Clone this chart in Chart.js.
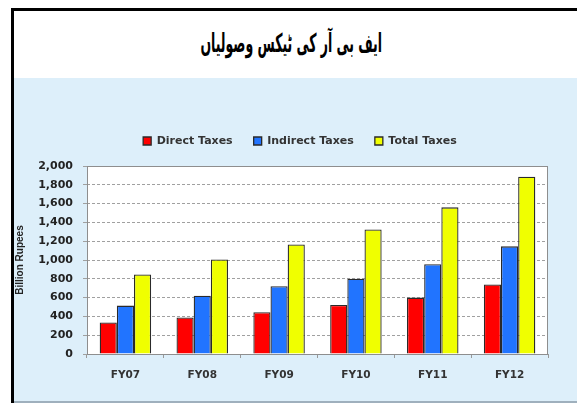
<!DOCTYPE html>
<html>
<head>
<meta charset="utf-8">
<script src="https://cdn.jsdelivr.net/npm/chart.js@4/dist/chart.umd.min.js"></script>
<style>
  body { margin: 0; width: 577px; height: 403px; background: #fff; position: relative; overflow: hidden; }
  .bar-top { position: absolute; left: 11px; top: 8px; width: 566px; height: 3px; background: #000; }
  .bar-left { position: absolute; left: 11px; top: 8px; width: 3px; height: 395px; background: #000; }
  .title { position: absolute; left: 14px; right: 9px; top: 13px; height: 60px;
           display: flex; align-items: center; justify-content: center; }
  .title span { display: inline-block; font: bold 26px "DejaVu Sans", sans-serif; color: #000;
                transform: scaleX(0.48); white-space: nowrap; }
  .panel { position: absolute; left: 14px; top: 78px; width: 563px; height: 323px;
           background: #ddeffa; border-bottom: 2px solid #9fb0bd; }
</style>
</head>
<body>
<div class="bar-top"></div>
<div class="bar-left"></div>
<div class="title"><span dir="rtl">ایف بی آر کی ٹیکس وصولیاں</span></div>
<div class="panel"><canvas id="fbrChart" width="563" height="323"></canvas></div>
<script>
const categories = ['FY07', 'FY08', 'FY09', 'FY10', 'FY11', 'FY12'];
const directTaxes = [335, 388, 445, 522, 600, 740];
const indirectTaxes = [515, 620, 722, 800, 955, 1145];
const totalTaxes = [847, 1005, 1165, 1325, 1560, 1885];
const yMin = 0, yMax = 2000, yStep = 200;

// white plot area with a grey frame
const plotFrame = {
  id: 'plotFrame',
  beforeDraw(chart) {
    const { ctx, chartArea: a } = chart;
    ctx.save();
    ctx.fillStyle = '#fff';
    ctx.fillRect(a.left, a.top, a.right - a.left, a.bottom - a.top);
    ctx.restore();
  },
  afterDraw(chart) {
    const { ctx, chartArea: a } = chart;
    ctx.save();
    ctx.strokeStyle = '#8e8e8e';
    ctx.lineWidth = 1;
    ctx.strokeRect(a.left + 0.5, a.top + 0.5, a.right - a.left - 1, a.bottom - a.top);
    ctx.restore();
  }
};

// more room under the legend, and nudge it right like the original
const legendSpacing = {
  id: 'legendSpacing',
  beforeInit(chart) {
    const fit = chart.legend.fit;
    chart.legend.fit = function () {
      fit.call(this);
      this.height += 9.5;
    };
  },
  afterLayout(chart) {
    chart.legend.left += 19;
    chart.legend.right += 19;
  }
};

const font = 'DejaVu Sans';

new Chart(document.getElementById('fbrChart'), {
  type: 'bar',
  data: {
    labels: categories,
    datasets: [
      { label: 'Direct Taxes', data: directTaxes, backgroundColor: '#ff0000' },
      { label: 'Indirect Taxes', data: indirectTaxes, backgroundColor: '#2174ff' },
      { label: 'Total Taxes', data: totalTaxes, backgroundColor: '#f0ff00' }
    ].map(d => ({ ...d, borderColor: '#2a2a2a', borderWidth: 1.3, categoryPercentage: 0.67, barPercentage: 1 }))
  },
  options: {
    responsive: false,
    animation: false,
    layout: { padding: { top: 36.5, right: 29, bottom: 0, left: 0 } },
    plugins: {
      legend: {
        position: 'top',
        labels: {
          boxWidth: 8, boxHeight: 8, padding: 21,
          color: '#333', font: { family: font, size: 11, weight: 'bold' }
        }
      },
      tooltip: { enabled: false }
    },
    scales: {
      x: {
        afterFit: s => { s.height = 47; },
        grid: { offset: true, drawOnChartArea: false, tickLength: 4, color: '#999' },
        border: { display: false },
        ticks: { color: '#333', padding: 11, font: { family: font, size: 10.5, weight: 'bold' } }
      },
      y: {
        min: yMin, max: yMax,
        afterFit: s => { s.width = 73; },
        grid: { color: '#a0a0a0', tickLength: 4, tickBorderDash: [] },
        border: { display: false, dash: [3, 2] },
        ticks: {
          stepSize: yStep, padding: 10, color: '#222',
          font: { family: font, size: 11, weight: 'bold' },
          callback: v => v.toLocaleString('en-US')
        },
        title: {
          display: true, text: 'Billion Rupees', color: '#222', padding: 0,
          font: { family: '"Liberation Sans Narrow", "Liberation Sans"', size: 10, weight: 'bold' }
        }
      }
    }
  },
  plugins: [plotFrame, legendSpacing]
});
</script>
</body>
</html>
